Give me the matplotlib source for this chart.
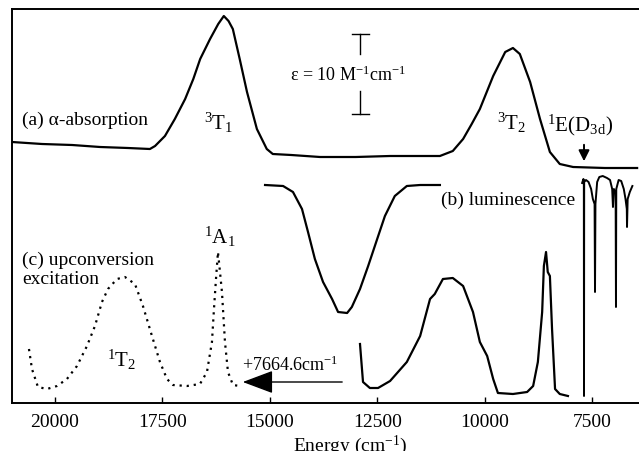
import numpy as np
import matplotlib
matplotlib.use('Agg')
import matplotlib.pyplot as plt

plt.rcParams['font.family'] = ['Liberation Serif', 'DejaVu Serif']
plt.rcParams['mathtext.fontset'] = 'custom'
plt.rcParams['mathtext.rm'] = 'Liberation Serif'
plt.rcParams['mathtext.it'] = 'Liberation Serif:italic'

# (a) alpha-absorption, energy in cm-1, intensity in arbitrary units
abs_energy = [21000, 20300, 19600, 18950, 18300, 17790, 17670, 17440, 17210, 16970,
              16780, 16620, 16390, 16200, 16070, 15960, 15860, 15700, 15530, 15300,
              15070, 14930, 14500, 13830, 13000, 12200, 11500, 11040, 10740, 10500,
              10300, 10110, 9800, 9520, 9340, 9180, 8940, 8710, 8480, 8250, 7940,
              7200, 6450]
abs_value = [262, 260, 259, 257, 256, 255, 258, 268, 285, 305,
             325, 345, 365, 380, 388, 383, 375, 345, 312, 275,
             255, 250, 249, 247, 247, 248, 248, 248, 253, 265,
             280, 295, 328, 352, 356, 350, 322, 285, 252, 240, 237,
             236, 236]

# (b) luminescence, upper band
lum_band_energy = [15110, 14690, 14460, 14250, 14110, 13950, 13760, 13550, 13410, 13200,
                   13090, 12900, 12710, 12500, 12320, 12090, 11810, 11500, 11040]
lum_band_value = [219, 218, 212, 195, 172, 145, 122, 105, 92, 91,
                  97, 115, 138, 165, 188, 208, 218, 219, 219]

# (b) luminescence, lower spectrum
lum_energy = [12900, 12830, 12670, 12480, 12200, 11810, 11500, 11270, 11160, 10970,
              10740, 10500, 10270, 10110, 9940, 9800, 9690, 9340, 9010, 8870,
              8760, 8660, 8620, 8570, 8530, 8480, 8430, 8360, 8250, 8060]
lum_value = [60, 22, 16, 16, 23, 42, 68, 105, 110, 125,
             126, 118, 92, 62, 48, 25, 11, 10, 12, 18,
             42, 92, 138, 152, 132, 128, 75, 15, 10, 8]

# (b) luminescence, sharp lines near the origin
ir_energy = [7730, 7700, 7690, 7686, 7682, 7640, 7580, 7520, 7480, 7440,
             7430, 7420, 7380, 7330, 7250, 7150, 7080, 7030, 7012, 6990,
             6950, 6942, 6935, 6880, 6820, 6760, 6720, 6690, 6685, 6670,
             6620, 6560]
ir_value = [221, 225, 224, 8, 222, 224, 222, 215, 205, 200,
            112, 200, 222, 227, 228, 226, 224, 215, 197, 215,
            210, 97, 215, 224, 223, 215, 205, 195, 177, 205,
            212, 218]

# (c) upconversion excitation
upc_energy = [20605, 20535, 20396, 20186, 19953, 19721, 19488, 19255, 19069, 18906,
              18766, 18557, 18371, 18138, 17952, 17742, 17556, 17393, 17253, 16927,
              16625, 16462, 16346, 16299, 16252, 16206, 16159, 16113, 16043, 15973,
              15857, 15694]
upc_value = [55, 35, 17, 15, 18, 25, 38, 58, 78, 102,
             115, 125, 127, 120, 98, 68, 42, 25, 19, 18,
             20, 32, 62, 95, 125, 152, 132, 112, 62, 32,
             19, 18]

xticks = [20000, 17500, 15000, 12500, 10000, 7500]

fig = plt.figure(figsize=(6.39, 4.52), dpi=100)
ax = fig.add_axes([12 / 639, 48 / 452, 1 - 12 / 639, 394 / 452])

lw = 1.6
ax.plot(abs_energy, abs_value, color='black', lw=lw)
ax.plot(lum_band_energy, lum_band_value, color='black', lw=lw)
ax.plot(lum_energy, lum_value, color='black', lw=lw)
ax.plot(ir_energy, ir_value, color='black', lw=1.4)
ax.plot(upc_energy, upc_value, color='black', lw=lw, linestyle=(0, (1, 2.2)))

ax.set_xlim(21000, 6406)
ax.set_ylim(1, 395)
ax.set_xticks(xticks)
ax.set_xticklabels([str(t) for t in xticks])
ax.set_yticks([])
ax.tick_params(axis='x', direction='in', length=4, width=1, labelsize=14, pad=7)
ax.spines['right'].set_visible(False)
for s in ['top', 'bottom', 'left']:
    ax.spines[s].set_linewidth(1.4)
ax.set_xlabel('Energy (cm$^{-1}$)', fontsize=14, labelpad=0)
ax.xaxis.set_label_coords(0.54, -0.075)

fs = 14
ax.text(20768, 285, '(a) α-absorption', fontsize=fs, ha='left', va='center')
ax.text(16200, 282, '$^{3}$T$_{1}$', fontsize=fs + 1, ha='center', va='center')
ax.text(9362, 282, '$^{3}$T$_{2}$', fontsize=fs + 1, ha='center', va='center')
ax.text(8548, 280, '$^{1}$E(D$_{\\mathrm{3d}}$)', fontsize=fs + 1, ha='left', va='center')
ax.text(14530, 330, 'ε = 10 M$^{-1}$cm$^{-1}$', fontsize=fs - 1, ha='left', va='center')
ax.text(7896, 205, '(b) luminescence', fontsize=fs, ha='right', va='center')
ax.text(20768, 145, '(c) upconversion', fontsize=fs, ha='left', va='center')
ax.text(20768, 125, 'excitation', fontsize=fs, ha='left', va='center')
ax.text(16160, 168, '$^{1}$A$_{1}$', fontsize=fs + 1, ha='center', va='center')
ax.text(18440, 45, '$^{1}$T$_{2}$', fontsize=fs + 1, ha='center', va='center')
ax.text(15647, 40, '+7664.6cm$^{-1}$', fontsize=fs - 1, ha='left', va='center')

# scale bar
ax.plot([12900, 12900], [370, 350], color='black', lw=1)
ax.plot([12900, 12900], [313, 290], color='black', lw=1)
ax.plot([13090, 12700], [370, 370], color='black', lw=1)
ax.plot([13090, 12700], [290, 290], color='black', lw=1)

# arrows
ax.annotate('', xy=(7686, 240), xytext=(7686, 262),
            arrowprops=dict(arrowstyle='-|>', color='black', lw=1.4,
                            mutation_scale=16))
ax.annotate('', xy=(15694, 22), xytext=(13250, 22),
            arrowprops=dict(arrowstyle='-|>,head_length=1.2,head_width=0.45',
                            color='black', lw=1, mutation_scale=16))

fig.savefig('out.png', dpi=100)
